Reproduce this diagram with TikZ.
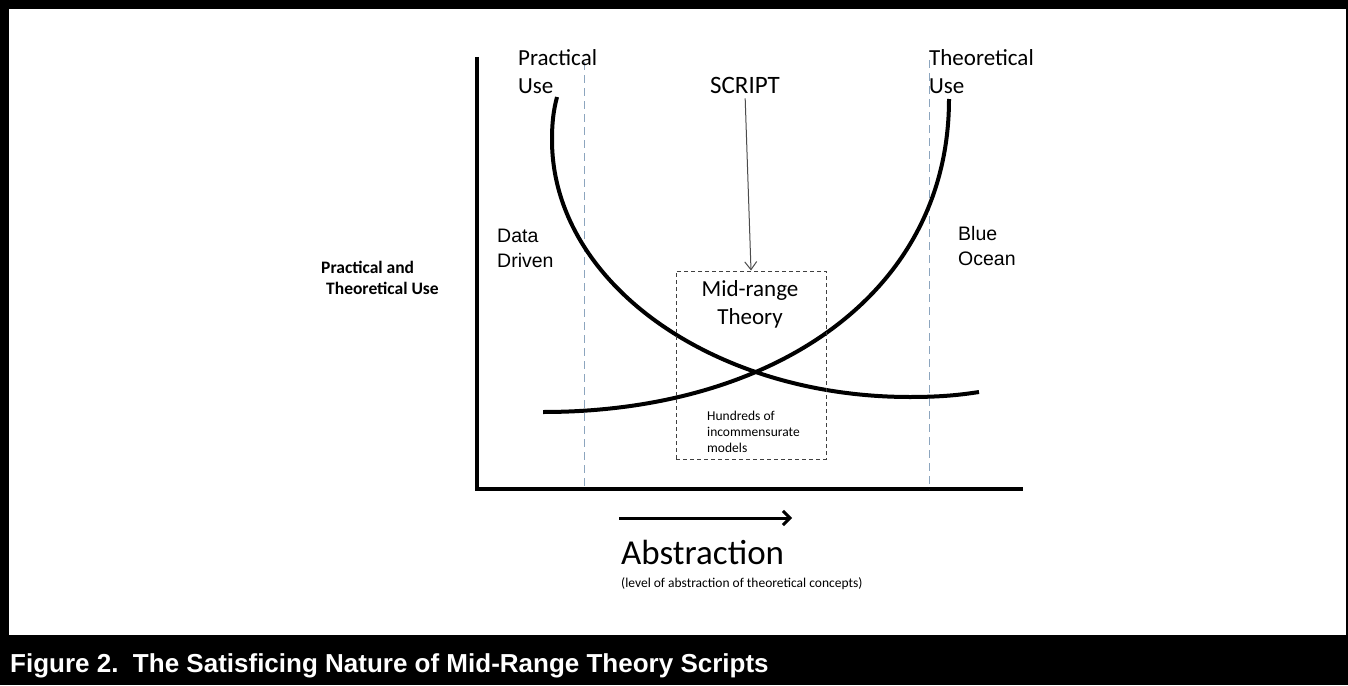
\documentclass[tikz,border=0pt]{standalone}
\usepackage{fontspec}
\setmainfont{Carlito}
\newfontfamily\arialfont{Liberation Sans}
\usetikzlibrary{arrows.meta}

\definecolor{guideblue}{RGB}{140,165,190}

\tikzstyle{axisline} = [line width=4pt, black, line join=miter]
\tikzstyle{usecurve} = [line width=4pt, black]
\tikzstyle{guide} = [line width=1pt, guideblue, dash pattern=on 8pt off 5pt]
\tikzstyle{toplabel} = [inner sep=0pt, anchor=base west, align=left, font=\fontsize{23}{28}\selectfont]
\tikzstyle{sidelabel} = [inner sep=0pt, anchor=base west, align=left, font=\arialfont\fontsize{19.5}{25}\selectfont]
\tikzstyle{axislabel} = [inner sep=0pt, anchor=base west, align=left, font=\bfseries\fontsize{17.5}{21}\selectfont]
\tikzstyle{smalltext} = [inner sep=0pt, anchor=base west, align=left, font=\fontsize{13.5}{16}\selectfont]
\tikzstyle{rangebox} = [rectangle, draw=black!75, line width=1pt, dash pattern=on 4pt off 3pt, minimum width=150pt, minimum height=188pt]
\tikzstyle{pointer} = [line width=1pt, black!70, -{Straight Barb[length=8pt,width=12pt]}]
\tikzstyle{arrow} = [line width=3pt, -{Straight Barb[length=7pt,width=14pt]}]

\begin{document}
\begin{tikzpicture}[x=1pt, y=-1pt]
\useasboundingbox (0,0) rectangle (1348,685);

% Frame and caption band
\fill [black] (0,0) rectangle (1348,685);
\fill [white] (9,9) rectangle (1346,635);

% Axes
\coordinate (ytop) at (477,57);
\coordinate (origin) at (477,489);
\coordinate (xend) at (1023,489);
\draw [axisline] (ytop) -- (origin) -- (xend);

% Guides
\coordinate (pracguide) at (584,62);
\coordinate (pracfoot) at (584,489);
\coordinate (theoguide) at (929,60);
\coordinate (theofoot) at (929,489);
\draw [guide] (pracguide) -- (pracfoot);
\draw [guide] (theoguide) -- (theofoot);

% Curves
\draw [usecurve] (557,97) .. controls (553,112) and (552,125) .. (552,140)
  .. controls (552,282) and (712,397) .. (910,397)
  .. controls (940,397) and (960,395) .. (979,392);
\draw [usecurve] (543,412) .. controls (773,412) and (949,294) .. (949,99);

% Nodes (multi-line nodes sit on their last baseline)
\node (pracuse) at (518,93) [toplabel] {Practical\\Use};
\node (theouse) at (929,93) [toplabel] {Theoretical\\Use};
\node (script) at (745,93) [toplabel, anchor=base, font=\fontsize{25}{30}\selectfont] {SCRIPT};
\node (datadriven) at (497,267) [sidelabel] {Data\\Driven};
\node (blueocean) at (958,265) [sidelabel] {Blue\\Ocean};
\node (yname) at (321,294) [axislabel] {Practical and\\\hspace{5pt}Theoretical Use};

\node (midbox) at (751,365) [rangebox] {};
\node (midtitle) at (750,324) [toplabel, anchor=base, align=center] {Mid-range\\Theory};
\node (models) at (707,452) [smalltext] {Hundreds of\\incommensurate\\models};

\node (abstr) at (621,564) [toplabel, font=\fontsize{35}{40}\selectfont] {Abstraction};
\node (abstrnote) at (621,587) [smalltext] {(level of abstraction of theoretical concepts)};
\coordinate (arrowstart) at (619,518);
\coordinate (arrowend) at (792,518);

\node (caption) at (10,672) [inner sep=0pt, anchor=base west, text=white, font=\arialfont\bfseries\fontsize{26}{30}\selectfont] {Figure 2.\ \ The Satisficing Nature of Mid-Range Theory Scripts};

% Arrows
\draw [pointer, shorten <=5pt] (script.south) -- (midbox.north);
\draw [arrow] (arrowstart) -- (arrowend);

\end{tikzpicture}
\end{document}
